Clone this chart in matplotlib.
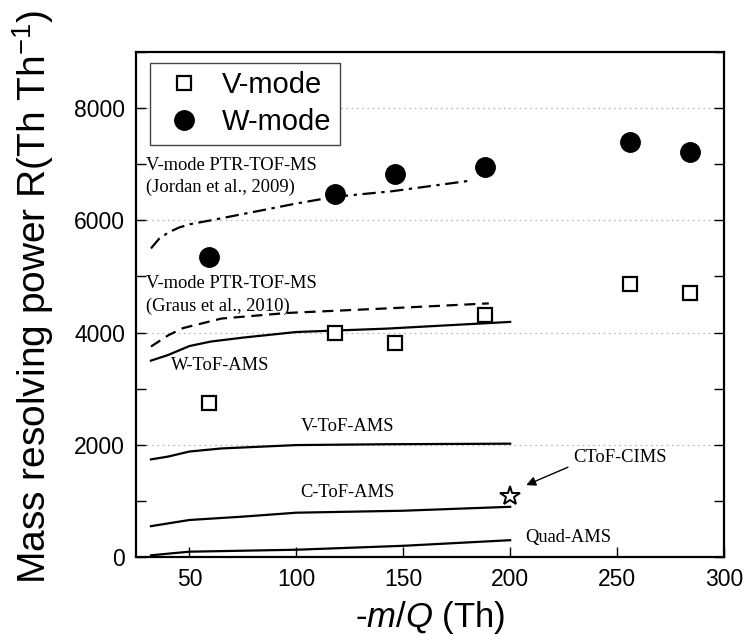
import numpy as np
import matplotlib
matplotlib.use('Agg')
import matplotlib.pyplot as plt
from matplotlib.ticker import MultipleLocator

plt.rcParams['font.family'] = ['Liberation Sans', 'DejaVu Sans']
plt.rcParams['mathtext.fontset'] = 'custom'
plt.rcParams['mathtext.rm'] = 'Liberation Sans'
plt.rcParams['mathtext.it'] = 'Liberation Sans:italic'

# measured points
mq = [59, 118, 146, 188, 256, 284]
v_mode = [2750, 3990, 3820, 4310, 4860, 4700]
w_mode = [5340, 6470, 6820, 6950, 7390, 7210]
ctof_cims_x = [200]
ctof_cims_y = [1090]

# literature curves
jordan_x = [32, 36, 40, 45, 50, 60, 80, 100, 118, 145, 180]
jordan_y = [5500, 5680, 5780, 5870, 5930, 6000, 6150, 6300, 6420, 6520, 6700]
graus_x = [32, 40, 47, 65, 96, 142, 190]
graus_y = [3750, 3950, 4080, 4250, 4350, 4430, 4520]
wtof_x = [32, 40, 50, 60, 75, 100, 142, 200]
wtof_y = [3500, 3600, 3760, 3840, 3910, 4010, 4070, 4190]
vtof_x = [32, 40, 50, 65, 100, 142, 200]
vtof_y = [1740, 1790, 1880, 1935, 1995, 2010, 2020]
ctof_x = [32, 50, 75, 100, 150, 200]
ctof_y = [550, 660, 720, 790, 825, 895]
quad_x = [32, 40, 50, 100, 150, 200]
quad_y = [30, 60, 95, 130, 200, 300]

fig = plt.figure(figsize=(7.46, 6.35), dpi=100)
ax = fig.add_axes([0.1823, 0.1228, 0.7882, 0.7953])

for g in [2000, 4000, 6000, 8000]:
    ax.axhline(g, color='#b0b0b0', lw=0.9, ls=(0, (1.2, 3)), zorder=0)

ax.plot(jordan_x, jordan_y, color='black', lw=1.6, ls=(0, (6, 2.5, 1.5, 2.5)))
ax.plot(graus_x, graus_y, color='black', lw=1.6, ls=(0, (5, 3)))
for xs, ys in [(wtof_x, wtof_y), (vtof_x, vtof_y), (ctof_x, ctof_y), (quad_x, quad_y)]:
    ax.plot(xs, ys, color='black', lw=1.6)

ax.plot(mq, v_mode, 's', ms=10, mfc='white', mec='black', mew=1.6, label='V-mode', zorder=5)
ax.plot(mq, w_mode, 'o', ms=14, color='black', label='W-mode', zorder=5)
ax.plot(ctof_cims_x, ctof_cims_y, '*', ms=15, mfc='white', mec='black', mew=1.4, zorder=5)

serif = dict(family=['Liberation Serif', 'DejaVu Serif'], fontsize=13.3, color='black')
ax.text(29.5, 6980, 'V-mode PTR-TOF-MS', va='center', ha='left', **serif)
ax.text(29.5, 6590, '(Jordan et al., 2009)', va='center', ha='left', **serif)
ax.text(29.5, 4870, 'V-mode PTR-TOF-MS', va='center', ha='left', **serif)
ax.text(29.5, 4475, '(Graus et al., 2010)', va='center', ha='left', **serif)
ax.text(41.5, 3420, 'W-ToF-AMS', va='center', ha='left', **serif)
ax.text(102, 2320, 'V-ToF-AMS', va='center', ha='left', **serif)
ax.text(102, 1150, 'C-ToF-AMS', va='center', ha='left', **serif)
ax.text(207, 350, 'Quad-AMS', va='center', ha='left', **serif)
ax.text(229.5, 1770, 'CToF-CIMS', va='center', ha='left', **serif)
ax.annotate('', xy=(207.5, 1282), xytext=(227, 1600),
            arrowprops=dict(arrowstyle='-|>', color='black', lw=1.0,
                            mutation_scale=14, shrinkA=0, shrinkB=0))

ax.set_xlim(25, 300)
ax.set_ylim(0, 9000)
ax.xaxis.set_major_locator(MultipleLocator(50))
ax.yaxis.set_major_locator(MultipleLocator(2000))
ax.yaxis.set_minor_locator(MultipleLocator(1000))
ax.tick_params(axis='both', which='both', direction='in', length=7, width=1.0,
               labelsize=16.5, pad=8)
ax.tick_params(axis='y', which='both', right=True)
for s in ax.spines.values():
    s.set_linewidth(1.6)

ax.set_xlabel(r'-$m/Q$ (Th)', fontsize=25, labelpad=6)
ax.set_ylabel(r'Mass resolving power R(Th Th$^{-1}$)', fontsize=28)
ax.yaxis.set_label_coords(-0.136, 0.516)

leg = ax.legend(loc='upper left', bbox_to_anchor=(0.024, 0.979), borderaxespad=0,
                fontsize=21, frameon=True, fancybox=False, framealpha=1,
                edgecolor='#444444', handlelength=1.75, handletextpad=0.4,
                borderpad=0.3, labelspacing=0.3, numpoints=1)
leg.get_frame().set_linewidth(1.0)

fig.savefig('out.png', dpi=100)
